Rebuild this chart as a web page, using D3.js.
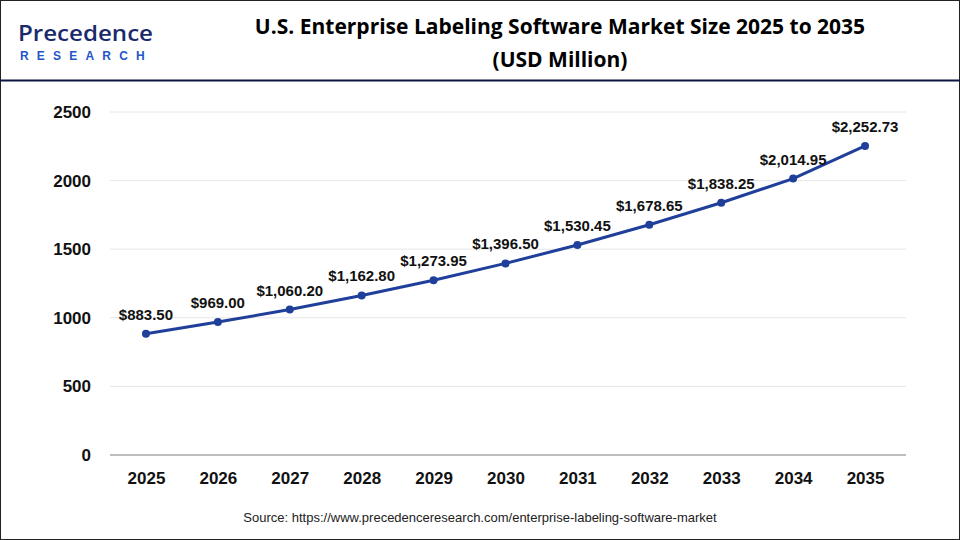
<!DOCTYPE html>
<html>
<head>
<meta charset="utf-8">
<script src="https://cdn.jsdelivr.net/npm/d3@7"></script>
<style>
  body { margin: 0; background: #fff; }
  svg { display: block; font-family: Arial, "Liberation Sans", sans-serif; }
</style>
</head>
<body>
<svg id="chart"></svg>
<script>
const years = ["2025", "2026", "2027", "2028", "2029", "2030", "2031", "2032", "2033", "2034", "2035"];
const values = [883.50, 969.00, 1060.20, 1162.80, 1273.95, 1396.50, 1530.45, 1678.65, 1838.25, 2014.95, 2252.73];
const yTicks = [0, 500, 1000, 1500, 2000, 2500];

const width = 960, height = 540;
const margin = { top: 112, bottom: 85, left: 110, right: 59 };

const svg = d3.select("#chart").attr("width", width).attr("height", height);

// рамка
svg.append("rect")
    .attr("x", 0.5).attr("y", 0.5)
    .attr("width", width - 1).attr("height", height - 1)
    .style("fill", "#fff").style("stroke", "#222");

// линия под заголовком
svg.append("line")
    .attr("x1", 0).attr("x2", width).attr("y1", 80.5).attr("y2", 80.5)
    .style("stroke", "#0d1440").style("stroke-width", 2);

// логотип
const logo = svg.append("g");
logo.append("text").attr("x", 18).attr("y", 41)
    .attr("textLength", 135).attr("lengthAdjust", "spacingAndGlyphs")
    .style("font-family", "'Open Sans', sans-serif").style("font-size", "22px")
    .style("fill", "#1a2a6c").style("font-weight", "600")
    .text("Precedence");
logo.append("text").attr("x", 20).attr("y", 60)
    .style("font-size", "12px").style("font-weight", "bold")
    .style("fill", "#2456c8").style("letter-spacing", "8.2px")
    .text("RESEARCH");

// заголовок
svg.append("text").attr("x", 560).attr("y", 34).attr("text-anchor", "middle")
    .style("font-family", "'Open Sans', sans-serif").style("font-weight", "bold").style("font-size", "21px")
    .text("U.S. Enterprise Labeling Software Market Size 2025 to 2035");
svg.append("text").attr("x", 560).attr("y", 67).attr("text-anchor", "middle")
    .style("font-family", "'Open Sans', sans-serif").style("font-weight", "bold").style("font-size", "21px")
    .text("(USD Million)");

const x = d3.scalePoint()
    .domain(years)
    .range([margin.left, width - margin.right])
    .padding(0.5);

const y = d3.scaleLinear()
    .domain([0, 2500])
    .range([height - margin.bottom, margin.top]);

// сетка
svg.append("g").selectAll("line")
    .data(yTicks.filter(t => t > 0))
    .enter().append("line")
    .attr("x1", margin.left).attr("x2", width - margin.right + 5)
    .attr("y1", d => y(d)).attr("y2", d => y(d))
    .style("stroke", "#e6e6e6");

svg.append("line")
    .attr("x1", margin.left).attr("x2", width - margin.right + 5)
    .attr("y1", y(0)).attr("y2", y(0))
    .style("stroke", "#bdbdbd").style("stroke-width", 2);

// ось Y
const yAxis = svg.append("g")
    .attr("transform", `translate(${margin.left - 16}, 0)`)
    .call(d3.axisLeft(y).tickValues(yTicks).tickSize(0).tickFormat(d3.format("d")));
yAxis.select(".domain").remove();
yAxis.selectAll("text")
    .style("font-size", "17px").style("font-weight", "bold").style("fill", "#111")
    .style("font-family", "Arial, sans-serif");

// ось X
const xAxis = svg.append("g")
    .attr("transform", `translate(0, ${y(0) + 14})`)
    .call(d3.axisBottom(x).tickSize(0));
xAxis.select(".domain").remove();
xAxis.selectAll("text")
    .style("font-size", "17px").style("font-weight", "bold").style("fill", "#111")
    .style("font-family", "Arial, sans-serif");

const pts = years.map((yr, i) => ({ yr, v: values[i] }));

svg.append("path")
    .datum(pts)
    .attr("d", d3.line().x(d => x(d.yr)).y(d => y(d.v)))
    .style("fill", "none").style("stroke", "#1f3f9a").style("stroke-width", 3);

svg.selectAll(".dot")
    .data(pts).enter().append("circle")
    .attr("cx", d => x(d.yr)).attr("cy", d => y(d.v)).attr("r", 4)
    .style("fill", "#1f3f9a");

const fmt = d3.format(",.2f");
svg.selectAll(".lbl")
    .data(pts).enter().append("text")
    .attr("x", d => x(d.yr)).attr("y", d => y(d.v) - 14)
    .attr("text-anchor", "middle")
    .style("font-size", "15px").style("font-weight", "bold").style("fill", "#111")
    .text(d => "$" + fmt(d.v));

svg.append("text").attr("x", 480).attr("y", 522).attr("text-anchor", "middle")
    .style("font-size", "13px").style("fill", "#222")
    .text("Source: https://www.precedenceresearch.com/enterprise-labeling-software-market");
</script>
</body>
</html>
